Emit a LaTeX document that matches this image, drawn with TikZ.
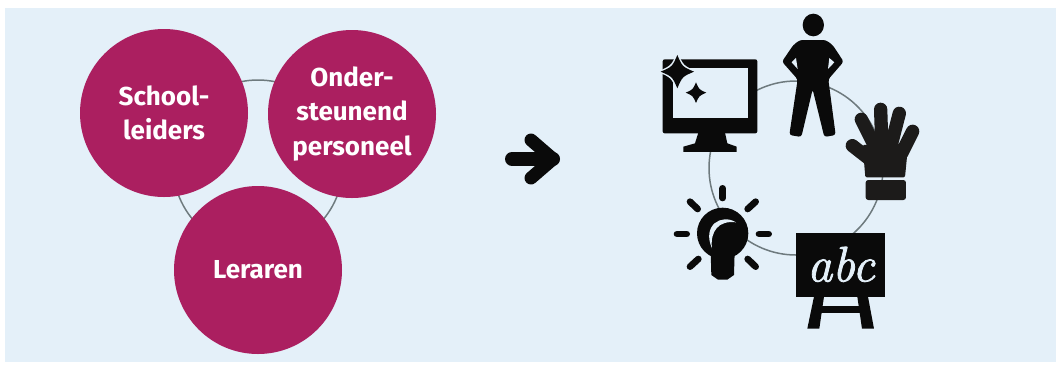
\documentclass[tikz,border=0pt]{standalone}
\usepackage{fontspec}
\setmainfont{Fira Sans}
\newfontfamily\abcfont{Latin Modern Roman}[ItalicFeatures={FakeBold=1.6}]
\definecolor{bgblue}{HTML}{E4F0F9}
\definecolor{plum}{HTML}{AB1F60}
\definecolor{ringgray}{HTML}{6E7A7E}
\definecolor{iconblack}{HTML}{0A0A0A}
\definecolor{handblack}{HTML}{1C1B1A}
\tikzset{
  disc/.style={circle,fill=plum,minimum size=168pt,inner sep=0pt,text=white,align=center,
    font=\fontsize{26}{34.5}\selectfont\bfseries},
  ringline/.style={circle,draw=ringgray,line width=1.5pt,inner sep=0pt},
  ray/.style={line width=20*0.3333pt,line cap=round,iconblack},
  finger/.style={line width=40*0.3333pt,line cap=round,handblack},
  zoomA/.style={shift={(640,0)},x=0.3333pt,y=-0.3333pt},
  zoomB/.style={shift={(640,170)},x=0.3333pt,y=-0.3333pt}
}
\newcommand{\fourstar}[3]{(#1,#2-#3) .. controls (#1+.3*#3,#2-.3*#3) .. (#1+#3,#2) .. controls (#1+.3*#3,#2+.3*#3) .. (#1,#2+#3) .. controls (#1-.3*#3,#2+.3*#3) .. (#1-#3,#2) .. controls (#1-.3*#3,#2-.3*#3) .. cycle}
\begin{document}
\begin{tikzpicture}[x=1pt,y=-1pt]
\useasboundingbox (0,0) rectangle (1059,365);
\fill[white] (0,0) rectangle (1059,365);
\fill[bgblue] (5,8) rectangle (1056,362);
% left group
\node[ringline,minimum size=170pt] (ringL) at (258,165) {};
\node[disc] (school) at (164,113) {School-\\leiders};
\node[disc] (onder) at (352,114) {Onder-\\steunend\\personeel};
\node[disc] (leraren) at (258,270) {Leraren};
% arrow
\coordinate (arrowtail) at (512,159);
\coordinate (arrowtip) at (553,159);
\draw[line width=14pt,line cap=round,iconblack] (arrowtail) -- (arrowtip);
\draw[line width=13pt,line cap=round,line join=round,iconblack] (531,140) -- (arrowtip) -- (531,178);
% right group
\node[ringline,minimum size=174pt] (ringR) at (796,168) {};
% monitor
\begin{scope}[zoomA]
  \fill[iconblack,rounded corners=6*0.3333pt] (68,178) rectangle (352,400);
  \fill[bgblue] (100,205) rectangle (325,355);
  \fill[iconblack] (175,398) -- (255,398) -- (262,430) -- (290,440) -- (290,456) -- (130,456) -- (130,440) -- (165,430) -- cycle;
  \fill[bgblue] \fourstar{112}{215}{60};
  \fill[iconblack] \fourstar{112}{215}{50};
  \fill[iconblack] \fourstar{168}{278}{31};
  % person
  \fill[iconblack] (520,75) ellipse (32 and 34);
  \fill[iconblack,rounded corners=8*0.3333pt] (480,120) -- (557,120) -- (578,135) -- (611,185) -- (565,238)
    -- (587,405) -- (553,411) -- (518,268) -- (484,411) -- (448,405) -- (473,238) -- (426,185) -- (460,135) -- cycle;
  \fill[bgblue] (468,174) -- (455,187) -- (473,207) -- cycle;
  \fill[bgblue] (568,174) -- (583,187) -- (564,207) -- cycle;
  % hand
  \draw[finger] (705,490) -- (637,437);
  \draw[finger] (700,430) -- (664,358);
  \draw[finger] (725,420) -- (722,328);
  \draw[finger] (755,430) -- (778,340);
  \draw[finger] (785,460) -- (818,394);
  \fill[handblack,rounded corners=4*0.3333pt] (668,435) -- (805,430) -- (795,532) -- (676,532) -- cycle;
\end{scope}
\begin{scope}[zoomB]
  % cuff
  \fill[handblack,rounded corners=8*0.3333pt] (677,30) rectangle (798,90);
  % bulb
  \draw[ray] (111,192) -- (140,192);
  \draw[ray] (357,192) -- (386,192);
  \draw[ray] (248,55) -- (248,84);
  \draw[ray] (150,95) -- (173,117);
  \draw[ray] (347,95) -- (323,117);
  \draw[ray] (150,290) -- (175,267);
  \draw[ray] (347,290) -- (323,267);
  \fill[iconblack] (248,190) circle (77);
  \fill[iconblack] (212,245) -- (284,245) -- (282,315) -- (262,329) -- (234,329) -- (214,315) -- cycle;
  \fill[bgblue] (288,157) .. controls (245,130) and (185,165) .. (216,235) .. controls (210,185) and (235,150) .. cycle;
  % blackboard
  \fill[iconblack] (468,188) rectangle (735,380);
  \fill[iconblack] (522,380) -- (552,380) -- (538,476) -- (502,476) -- cycle;
  \fill[iconblack] (652,380) -- (684,380) -- (702,476) -- (666,476) -- cycle;
  \fill[iconblack] (535,408) rectangle (670,430);
  \node[text=bgblue,font=\abcfont\fontsize{50}{50}\selectfont\itshape,inner sep=0pt] (abc) at (603,283) {abc};
\end{scope}
\end{tikzpicture}
\end{document}
